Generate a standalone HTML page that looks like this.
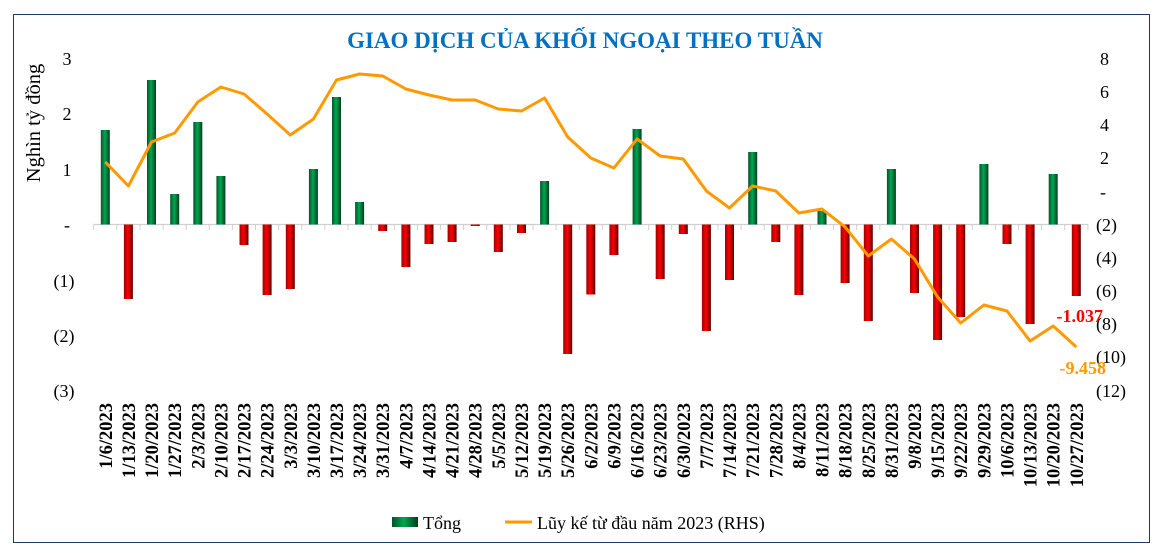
<!DOCTYPE html>
<html><head><meta charset="utf-8"><style>
html,body{margin:0;padding:0;background:#fff;}
svg{display:block;font-family:"Liberation Serif","DejaVu Serif",serif;}
</style></head><body>
<svg width="1162" height="553" viewBox="0 0 1162 553">
<defs>
<linearGradient id="g" x1="0" x2="1" y1="0" y2="0">
<stop offset="0" stop-color="#00552a"/><stop offset="0.45" stop-color="#00a650"/><stop offset="1" stop-color="#003d1e"/></linearGradient>
<linearGradient id="r" x1="0" x2="1" y1="0" y2="0">
<stop offset="0" stop-color="#a00000"/><stop offset="0.45" stop-color="#ff0000"/><stop offset="1" stop-color="#5a0000"/></linearGradient>
</defs>
<rect x="13.5" y="14.5" width="1136" height="528" fill="#fff" stroke="#1f3864"/>
<text x="585" y="48" text-anchor="middle" font-size="23" font-weight="bold" fill="#0070c0">GIAO DỊCH CỦA KHỐI NGOẠI THEO TUẦN</text>
<g font-size="18" fill="#000" text-anchor="middle">
<text x="67" y="65">3</text><text x="67" y="120">2</text><text x="67" y="176">1</text><text x="67" y="231">-</text>
<text x="64" y="287">(1)</text><text x="64" y="342">(2)</text><text x="64" y="397">(3)</text>
</g>
<g font-size="18" fill="#000">
<text x="1100" y="65">8</text><text x="1100" y="98">6</text><text x="1100" y="131">4</text><text x="1100" y="164">2</text><text x="1100" y="198">-</text>
<text x="1096" y="231">(2)</text><text x="1096" y="264">(4)</text><text x="1096" y="297">(6)</text><text x="1096" y="330">(8)</text><text x="1096" y="363">(10)</text><text x="1096" y="397">(12)</text>
</g>
<text transform="translate(40,123) rotate(-90)" text-anchor="middle" font-size="20.5">Nghìn tỷ đồng</text>
<line x1="94" y1="224.5" x2="1088" y2="224.5" stroke="#d0d0d0" stroke-width="1.2"/>
<path stroke="#d0d0d0" d="M93.7 224v6M116.8 224v6M139.9 224v6M163.1 224v6M186.2 224v6M209.3 224v6M232.4 224v6M255.5 224v6M278.7 224v6M301.8 224v6M324.9 224v6M348 224v6M371.1 224v6M394.3 224v6M417.4 224v6M440.5 224v6M463.6 224v6M486.7 224v6M509.9 224v6M533 224v6M556.1 224v6M579.2 224v6M602.3 224v6M625.5 224v6M648.6 224v6M671.7 224v6M694.8 224v6M717.9 224v6M741.1 224v6M764.2 224v6M787.3 224v6M810.4 224v6M833.5 224v6M856.7 224v6M879.8 224v6M902.9 224v6M926 224v6M949.1 224v6M972.3 224v6M995.4 224v6M1018.5 224v6M1041.6 224v6M1064.7 224v6M1087.9 224v6"/>
<g>
<rect x="100.8" y="130" width="9" height="94.5" fill="url(#g)"/>
<rect x="123.9" y="224.5" width="9" height="74.5" fill="url(#r)"/>
<rect x="147" y="80" width="9" height="144.5" fill="url(#g)"/>
<rect x="170.2" y="194" width="9" height="30.5" fill="url(#g)"/>
<rect x="193.3" y="122" width="9" height="102.5" fill="url(#g)"/>
<rect x="216.4" y="176" width="9" height="48.5" fill="url(#g)"/>
<rect x="239.5" y="224.5" width="9" height="20.5" fill="url(#r)"/>
<rect x="262.6" y="224.5" width="9" height="70.5" fill="url(#r)"/>
<rect x="285.8" y="224.5" width="9" height="64.5" fill="url(#r)"/>
<rect x="308.9" y="169" width="9" height="55.5" fill="url(#g)"/>
<rect x="332" y="97" width="9" height="127.5" fill="url(#g)"/>
<rect x="355.1" y="202" width="9" height="22.5" fill="url(#g)"/>
<rect x="378.2" y="224.5" width="9" height="6.5" fill="url(#r)"/>
<rect x="401.4" y="224.5" width="9" height="42.5" fill="url(#r)"/>
<rect x="424.5" y="224.5" width="9" height="19.5" fill="url(#r)"/>
<rect x="447.6" y="224.5" width="9" height="17.5" fill="url(#r)"/>
<rect x="470.7" y="224.5" width="9" height="1.5" fill="url(#r)"/>
<rect x="493.8" y="224.5" width="9" height="27.5" fill="url(#r)"/>
<rect x="517" y="224.5" width="9" height="8.5" fill="url(#r)"/>
<rect x="540.1" y="181" width="9" height="43.5" fill="url(#g)"/>
<rect x="563.2" y="224.5" width="9" height="129.5" fill="url(#r)"/>
<rect x="586.3" y="224.5" width="9" height="70" fill="url(#r)"/>
<rect x="609.4" y="224.5" width="9" height="30.5" fill="url(#r)"/>
<rect x="632.6" y="129" width="9" height="95.5" fill="url(#g)"/>
<rect x="655.7" y="224.5" width="9" height="54.5" fill="url(#r)"/>
<rect x="678.8" y="224.5" width="9" height="9.5" fill="url(#r)"/>
<rect x="701.9" y="224.5" width="9" height="106.5" fill="url(#r)"/>
<rect x="725" y="224.5" width="9" height="55.5" fill="url(#r)"/>
<rect x="748.2" y="152" width="9" height="72.5" fill="url(#g)"/>
<rect x="771.3" y="224.5" width="9" height="17.5" fill="url(#r)"/>
<rect x="794.4" y="224.5" width="9" height="70.5" fill="url(#r)"/>
<rect x="817.5" y="211" width="9" height="13.5" fill="url(#g)"/>
<rect x="840.6" y="224.5" width="9" height="58.5" fill="url(#r)"/>
<rect x="863.8" y="224.5" width="9" height="96.5" fill="url(#r)"/>
<rect x="886.9" y="169" width="9" height="55.5" fill="url(#g)"/>
<rect x="910" y="224.5" width="9" height="68.5" fill="url(#r)"/>
<rect x="933.1" y="224.5" width="9" height="115.5" fill="url(#r)"/>
<rect x="956.2" y="224.5" width="9" height="92.5" fill="url(#r)"/>
<rect x="979.4" y="164" width="9" height="60.5" fill="url(#g)"/>
<rect x="1002.5" y="224.5" width="9" height="19.5" fill="url(#r)"/>
<rect x="1025.6" y="224.5" width="9" height="99.5" fill="url(#r)"/>
<rect x="1048.7" y="174" width="9" height="50.5" fill="url(#g)"/>
<rect x="1071.8" y="224.5" width="9" height="71.5" fill="url(#r)"/>
</g>
<polyline fill="none" stroke="#ff9900" stroke-width="3" stroke-linejoin="round" points="105.3,162 128.4,186 151.5,142 174.7,133 197.8,102 220.9,87 244,94 267.1,114 290.3,135 313.4,119 336.5,80 359.6,74 382.7,76 405.9,89 429,95 452.1,100 475.2,100 498.3,109 521.5,111 544.6,98 567.7,137 590.8,158 613.9,168 637.1,139 660.2,156 683.3,159 706.4,191 729.5,208 752.7,186 775.8,191 798.9,213 822,209 845.1,227 868.3,256 891.4,239 914.5,259 937.6,297 960.7,323 983.9,305 1007,311 1030.1,341 1053.2,326 1076.3,347"/>
<text x="1103" y="322" text-anchor="end" font-size="18" font-weight="bold" fill="#ff0000">-1.037</text>
<text x="1106" y="374" text-anchor="end" font-size="18" font-weight="bold" fill="#ff9900">-9.458</text>
<g font-size="18.5" font-weight="bold" text-anchor="end">
<text transform="translate(111.8,403) rotate(-90)">1/6/2023</text>
<text transform="translate(134.9,403) rotate(-90)">1/13/2023</text>
<text transform="translate(158,403) rotate(-90)">1/20/2023</text>
<text transform="translate(181.2,403) rotate(-90)">1/27/2023</text>
<text transform="translate(204.3,403) rotate(-90)">2/3/2023</text>
<text transform="translate(227.4,403) rotate(-90)">2/10/2023</text>
<text transform="translate(250.5,403) rotate(-90)">2/17/2023</text>
<text transform="translate(273.6,403) rotate(-90)">2/24/2023</text>
<text transform="translate(296.8,403) rotate(-90)">3/3/2023</text>
<text transform="translate(319.9,403) rotate(-90)">3/10/2023</text>
<text transform="translate(343,403) rotate(-90)">3/17/2023</text>
<text transform="translate(366.1,403) rotate(-90)">3/24/2023</text>
<text transform="translate(389.2,403) rotate(-90)">3/31/2023</text>
<text transform="translate(412.4,403) rotate(-90)">4/7/2023</text>
<text transform="translate(435.5,403) rotate(-90)">4/14/2023</text>
<text transform="translate(458.6,403) rotate(-90)">4/21/2023</text>
<text transform="translate(481.7,403) rotate(-90)">4/28/2023</text>
<text transform="translate(504.8,403) rotate(-90)">5/5/2023</text>
<text transform="translate(528,403) rotate(-90)">5/12/2023</text>
<text transform="translate(551.1,403) rotate(-90)">5/19/2023</text>
<text transform="translate(574.2,403) rotate(-90)">5/26/2023</text>
<text transform="translate(597.3,403) rotate(-90)">6/2/2023</text>
<text transform="translate(620.4,403) rotate(-90)">6/9/2023</text>
<text transform="translate(643.6,403) rotate(-90)">6/16/2023</text>
<text transform="translate(666.7,403) rotate(-90)">6/23/2023</text>
<text transform="translate(689.8,403) rotate(-90)">6/30/2023</text>
<text transform="translate(712.9,403) rotate(-90)">7/7/2023</text>
<text transform="translate(736,403) rotate(-90)">7/14/2023</text>
<text transform="translate(759.2,403) rotate(-90)">7/21/2023</text>
<text transform="translate(782.3,403) rotate(-90)">7/28/2023</text>
<text transform="translate(805.4,403) rotate(-90)">8/4/2023</text>
<text transform="translate(828.5,403) rotate(-90)">8/11/2023</text>
<text transform="translate(851.6,403) rotate(-90)">8/18/2023</text>
<text transform="translate(874.8,403) rotate(-90)">8/25/2023</text>
<text transform="translate(897.9,403) rotate(-90)">8/31/2023</text>
<text transform="translate(921,403) rotate(-90)">9/8/2023</text>
<text transform="translate(944.1,403) rotate(-90)">9/15/2023</text>
<text transform="translate(967.2,403) rotate(-90)">9/22/2023</text>
<text transform="translate(990.4,403) rotate(-90)">9/29/2023</text>
<text transform="translate(1013.5,403) rotate(-90)">10/6/2023</text>
<text transform="translate(1036.6,403) rotate(-90)">10/13/2023</text>
<text transform="translate(1059.7,403) rotate(-90)">10/20/2023</text>
<text transform="translate(1082.8,403) rotate(-90)">10/27/2023</text>
</g>
<rect x="392" y="517" width="26" height="10" fill="url(#g)"/>
<text x="423" y="529" font-size="18">Tổng</text>
<line x1="505" y1="522" x2="532" y2="522" stroke="#ff9900" stroke-width="3"/>
<text x="537" y="529" font-size="18">Lũy kế từ đầu năm 2023 (RHS)</text>
</svg>
</body></html>
